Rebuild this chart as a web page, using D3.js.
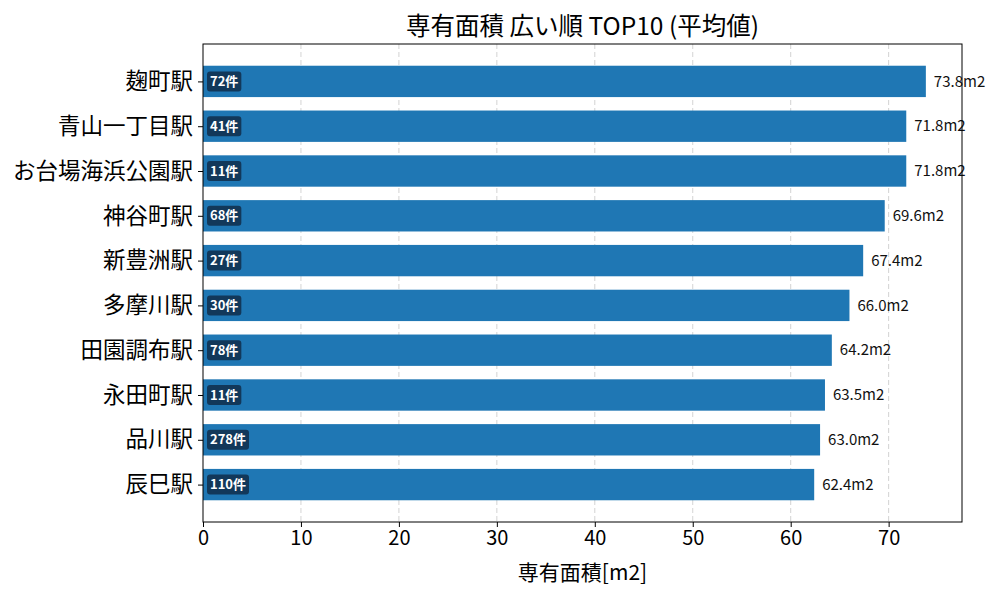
<!DOCTYPE html>
<html>
<head>
<meta charset="utf-8">
<script src="https://cdn.jsdelivr.net/npm/d3@7"></script>
<style>
  body { margin: 0; background: #fff; }
  text { font-family: "Noto Sans CJK JP", "Noto Sans", sans-serif; }
</style>
</head>
<body>
<div id="chart"></div>
<script>
const stations = ["麹町駅", "青山一丁目駅", "お台場海浜公園駅", "神谷町駅", "新豊洲駅",
  "多摩川駅", "田園調布駅", "永田町駅", "品川駅", "辰巳駅"];
const areas = [73.8, 71.8, 71.8, 69.6, 67.4, 66.0, 64.2, 63.5, 63.0, 62.4];
const counts = [72, 41, 11, 68, 27, 30, 78, 11, 278, 110];
const xTicks = [0, 10, 20, 30, 40, 50, 60, 70];

const data = stations.map((s, i) => ({ station: s, area: areas[i], count: counts[i] }));

const margin = { top: 44, right: 38, bottom: 78, left: 203 };
const width = 1000 - margin.left - margin.right;
const height = 600 - margin.top - margin.bottom;

const svg = d3.select("#chart")
  .append("svg")
  .attr("width", 1000)
  .attr("height", 600);

const g = svg.append("g")
  .attr("transform", `translate(${margin.left},${margin.top})`);

const xScale = d3.scaleLinear()
  .domain([0, d3.max(areas) * 1.05])
  .range([0, width]);

// matplotlib-style category axis: 0.7 bar height, 5% margins
const yPos = d3.scaleLinear()
  .domain([-0.835, 9.835])
  .range([0, height]);
const barH = yPos(0.35) - yPos(-0.35);

// grid
g.append("g")
  .selectAll("line")
  .data(xTicks.slice(1))
  .join("line")
  .attr("x1", d => xScale(d))
  .attr("x2", d => xScale(d))
  .attr("y1", 0)
  .attr("y2", height)
  .attr("stroke", "#b0b0b0")
  .attr("stroke-opacity", 0.7)
  .attr("stroke-dasharray", "5,3")
  .attr("stroke-width", 0.8);

// bars
g.selectAll(".bar")
  .data(data)
  .join("rect")
  .attr("class", "bar")
  .attr("x", 0)
  .attr("y", (d, i) => yPos(i) - barH / 2)
  .attr("width", d => xScale(d.area))
  .attr("height", barH)
  .attr("fill", "#1f77b4");

// value labels
g.selectAll(".val")
  .data(data)
  .join("text")
  .attr("class", "val")
  .attr("x", d => xScale(d.area) + 8)
  .attr("y", (d, i) => yPos(i))
  .attr("dy", "0.35em")
  .attr("font-size", 15)
  .attr("fill", "#111")
  .text(d => d.area.toFixed(1) + "m2");

// count badges
const badges = g.selectAll(".badge")
  .data(data)
  .join("g")
  .attr("class", "badge")
  .attr("transform", (d, i) => `translate(4,${yPos(i)})`);

badges.append("text")
  .attr("x", 3)
  .attr("dy", "0.35em")
  .attr("font-size", 13)
  .attr("font-weight", "bold")
  .attr("fill", "#fff")
  .text(d => d.count + "件");

badges.each(function() {
  const t = d3.select(this).select("text");
  const w = t.node().getComputedTextLength();
  d3.select(this).insert("rect", "text")
    .attr("x", 0)
    .attr("y", -10)
    .attr("width", w + 6)
    .attr("height", 20)
    .attr("rx", 3)
    .attr("fill", "#12385a");
});

// axes
const xAxis = g.append("g")
  .attr("transform", `translate(0,${height})`)
  .call(d3.axisBottom(xScale).tickValues(xTicks).tickSize(5).tickPadding(4));
xAxis.selectAll("text").attr("font-size", 20).attr("fill", "#000");
xAxis.select(".domain").remove();

const yAxis = g.append("g")
  .call(d3.axisLeft(yPos).tickValues(d3.range(10)).tickFormat(i => stations[i]).tickSize(5).tickPadding(5));
yAxis.selectAll("text").attr("font-size", 22.5).attr("fill", "#000");
yAxis.select(".domain").remove();

// frame
g.append("rect")
  .attr("width", width)
  .attr("height", height)
  .attr("fill", "none")
  .attr("stroke", "#000")
  .attr("stroke-width", 1);

// title and label
svg.append("text")
  .attr("x", margin.left + width / 2)
  .attr("y", 35)
  .attr("text-anchor", "middle")
  .attr("font-size", 24.5)
  .text("専有面積 広い順 TOP10 (平均値)");

svg.append("text")
  .attr("x", margin.left + width / 2)
  .attr("y", 580)
  .attr("text-anchor", "middle")
  .attr("font-size", 21)
  .text("専有面積[m2]");
</script>
</body>
</html>
